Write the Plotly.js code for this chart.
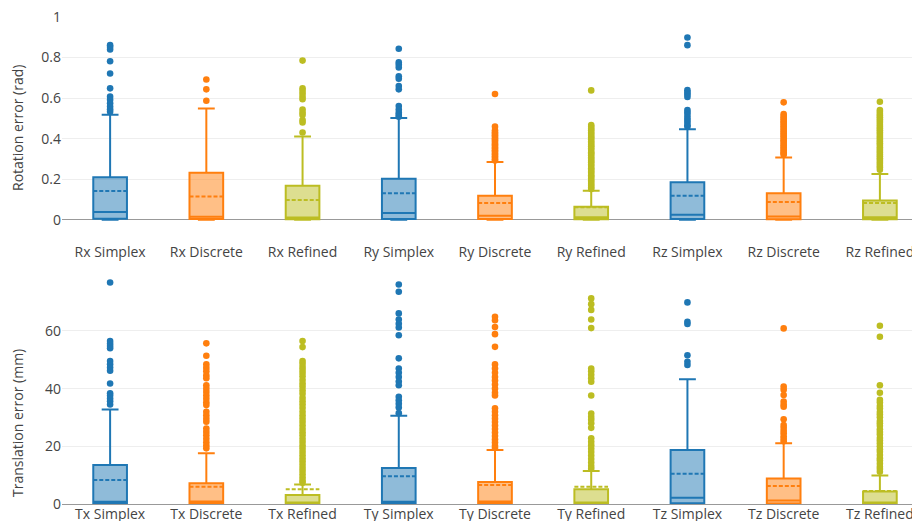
<!DOCTYPE html>
<html>
<head>
<meta charset="utf-8">
<script src="https://cdn.plot.ly/plotly-3.0.1.min.js"></script>
<style>
html, body { margin: 0; padding: 0; overflow: hidden; background: #fff; }
#chart { width: 940px; height: 521px; }
</style>
</head>
<body>
<div id="chart"></div>
<script>
// ---------- Rotation (rad) ----------
const rotCats = ['Rx Simplex', 'Rx Discrete', 'Rx Refined', 'Ry Simplex', 'Ry Discrete', 'Ry Refined', 'Rz Simplex', 'Rz Discrete', 'Rz Refined'];
const rotLower  = [0, 0, 0, 0, 0, 0, 0, 0, 0];
const rotQ1     = [0.005, 0.003, 0.002, 0.004, 0.003, 0.002, 0.003, 0.002, 0.002];
const rotMedian = [0.038, 0.015, 0.011, 0.033, 0.020, 0.012, 0.025, 0.016, 0.012];
const rotQ3     = [0.210, 0.231, 0.167, 0.202, 0.118, 0.064, 0.185, 0.131, 0.095];
const rotUpper  = [0.518, 0.548, 0.410, 0.502, 0.285, 0.143, 0.446, 0.307, 0.226];
const rotMean   = [0.141, 0.115, 0.097, 0.131, 0.082, 0.062, 0.118, 0.087, 0.082];

const outRxSimplex  = [0.861, 0.852, 0.840, 0.782, 0.721, 0.648, 0.607, 0.592, 0.574, 0.558, 0.545, 0.533];
const outRxDiscrete = [0.692, 0.643, 0.587];
const outRxRefined  = [0.785, 0.648, 0.636, 0.622, 0.607, 0.594, 0.544, 0.529, 0.516, 0.492, 0.480, 0.430];
const outRySimplex  = [0.843, 0.776, 0.764, 0.751, 0.708, 0.695, 0.659, 0.643, 0.561, 0.544, 0.528, 0.517, 0.508];
const outRyDiscrete = [0.620, 0.459, 0.441, 0.432, 0.424, 0.417, 0.409, 0.402, 0.394, 0.388, 0.379, 0.371, 0.365, 0.356, 0.350, 0.342, 0.336, 0.327, 0.320, 0.313, 0.305, 0.298, 0.292];
const outRyRefined  = [0.638, 0.467, 0.459, 0.449, 0.441, 0.430, 0.423, 0.413, 0.405, 0.397, 0.386, 0.379, 0.369, 0.362, 0.352, 0.344, 0.333, 0.326, 0.318, 0.307, 0.300, 0.290, 0.283, 0.272, 0.265, 0.254, 0.247, 0.237, 0.230, 0.219, 0.212, 0.203, 0.193, 0.186, 0.176, 0.168, 0.159, 0.151];
const outRzSimplex  = [0.899, 0.861, 0.639, 0.628, 0.618, 0.605, 0.541, 0.530, 0.517, 0.503, 0.492, 0.480, 0.466, 0.459];
const outRzDiscrete = [0.579, 0.521, 0.512, 0.503, 0.495, 0.486, 0.478, 0.470, 0.461, 0.452, 0.444, 0.435, 0.427, 0.418, 0.410, 0.401, 0.392, 0.384, 0.375, 0.366, 0.358, 0.349, 0.341, 0.333, 0.326, 0.320];
const outRzRefined  = [0.582, 0.541, 0.532, 0.523, 0.514, 0.505, 0.496, 0.487, 0.478, 0.468, 0.459, 0.450, 0.441, 0.432, 0.423, 0.413, 0.404, 0.395, 0.386, 0.377, 0.368, 0.358, 0.349, 0.340, 0.331, 0.322, 0.313, 0.303, 0.294, 0.285, 0.276, 0.266, 0.257, 0.246];

// ---------- Translation (mm) ----------
const trCats = ['Tx Simplex', 'Tx Discrete', 'Tx Refined', 'Ty Simplex', 'Ty Discrete', 'Ty Refined', 'Tz Simplex', 'Tz Discrete', 'Tz Refined'];
const trLower  = [0, 0, 0, 0, 0, 0, 0, 0, 0];
const trQ1     = [0.2, 0.2, 0.1, 0.2, 0.2, 0.1, 0.3, 0.2, 0.1];
const trMedian = [0.8, 0.9, 0.5, 0.8, 0.9, 0.5, 2.2, 1.2, 0.5];
const trQ3     = [13.5, 7.2, 3.1, 12.5, 7.6, 5.1, 18.7, 8.8, 4.3];
const trUpper  = [32.8, 17.6, 6.8, 30.6, 18.7, 11.4, 43.3, 21.1, 9.9];
const trMean   = [8.3, 6.0, 5.1, 9.6, 6.6, 6.0, 10.5, 6.2, 4.5];

const outTxSimplex  = [76.8, 56.5, 55.6, 54.8, 54.0, 49.6, 48.5, 47.3, 46.2, 41.8, 38.4, 37.6, 36.6, 35.6, 34.5];
const outTxDiscrete = [55.7, 51.4, 48.4, 47.2, 46.0, 44.6, 43.6, 41.2, 40.0, 38.8, 37.6, 36.5, 35.3, 34.3, 32.0, 30.8, 29.6, 28.5, 26.2, 25.0, 23.8, 22.6, 21.4, 20.3, 19.3];
const outTxRefined  = [56.5, 54.4, 49.6, 48.6, 47.5, 46.5, 45.4, 44.3, 43.0, 41.8, 40.7, 39.4, 38.2, 36.8, 35.6, 34.5, 33.3, 32.0, 30.8, 29.6, 28.4, 27.2, 26.0, 24.9, 23.8, 22.6, 21.5, 20.3, 19.2, 18.0, 16.9, 15.8, 14.7, 13.6, 12.5, 11.4, 10.3, 9.2, 8.1, 7.4];
const outTySimplex  = [76.1, 73.6, 66.1, 64.0, 62.5, 61.2, 58.5, 50.5, 47.0, 45.5, 44.0, 42.5, 41.2, 37.2, 36.0, 34.8, 33.5, 31.5];
const outTyDiscrete = [64.9, 63.7, 61.4, 58.9, 54.5, 48.4, 47.0, 45.5, 44.0, 42.8, 41.4, 40.0, 38.6, 37.6, 33.2, 32.0, 30.8, 29.6, 28.4, 27.2, 26.0, 24.8, 23.6, 22.4, 21.3, 20.2, 19.4];
const outTyRefined  = [71.3, 69.3, 67.3, 64.0, 61.0, 47.0, 46.0, 44.8, 43.6, 42.4, 37.6, 31.4, 30.2, 29.2, 28.0, 26.4, 22.8, 21.6, 20.4, 19.2, 18.0, 16.8, 15.6, 14.4, 13.2, 12.2];
const outTzSimplex  = [69.9, 63.2, 62.4, 51.6, 49.3, 48.2];
const outTzDiscrete = [60.9, 40.7, 39.6, 37.8, 35.5, 34.5, 33.7, 29.4, 27.4, 26.4, 25.4, 24.5, 23.5, 22.6, 21.8];
const outTzRefined  = [61.8, 58.0, 41.2, 38.6, 36.1, 35.2, 34.0, 33.1, 31.9, 31.0, 30.1, 28.8, 28.0, 27.1, 25.9, 25.0, 24.1, 22.9, 22.0, 21.1, 20.0, 18.9, 18.1, 17.0, 15.9, 15.1, 14.0, 12.9, 12.1, 11.2];

const methodColors = ['#1f77b4', '#ff7f0e', '#bcbd22'];

const rotOut = [outRxSimplex, outRxDiscrete, outRxRefined, outRySimplex, outRyDiscrete, outRyRefined, outRzSimplex, outRzDiscrete, outRzRefined];
const trOut = [outTxSimplex, outTxDiscrete, outTxRefined, outTySimplex, outTyDiscrete, outTyRefined, outTzSimplex, outTzDiscrete, outTzRefined];

const traces = [];
function addPanel(cats, lower, q1, med, q3, upper, mean, outs, xa, ya) {
  cats.forEach((c, i) => {
    const col = methodColors[i % 3];
    traces.push({
      type: 'box', x: [c], q1: [q1[i]], median: [med[i]], q3: [q3[i]],
      lowerfence: [lower[i]], upperfence: [upper[i]], mean: [mean[i]],
      boxmean: true, boxpoints: false, name: c, showlegend: false,
      marker: { color: col }, line: { color: col, width: 2 },
      xaxis: xa, yaxis: ya, hoverinfo: 'y'
    });
    traces.push({
      type: 'scatter', mode: 'markers', x: outs[i].map(() => c), y: outs[i],
      marker: { color: col, size: 6.6 }, showlegend: false,
      xaxis: xa, yaxis: ya, hoverinfo: 'y'
    });
  });
}
addPanel(rotCats, rotLower, rotQ1, rotMedian, rotQ3, rotUpper, rotMean, rotOut, 'x', 'y');
addPanel(trCats, trLower, trQ1, trMedian, trQ3, trUpper, trMean, trOut, 'x2', 'y2');

const font = { family: '"Open Sans", verdana, arial, sans-serif', size: 14, color: '#444' };
const layout = {
  width: 940, height: 521,
  margin: { l: 62, r: 12, t: 17, b: 17 },
  font: font,
  showlegend: false,
  boxmode: 'overlay', boxgap: 0.5,
  paper_bgcolor: '#fff', plot_bgcolor: '#fff',
  xaxis: { domain: [0, 1], anchor: 'y', type: 'category', categoryorder: 'array', categoryarray: rotCats,
           showgrid: false, zeroline: false, showline: false, ticks: '', tickfont: font },
  yaxis: { domain: [0.538, 1], anchor: 'x', range: [-0.11, 1], dtick: 0.2, tick0: 0,
           gridcolor: '#eee', zeroline: true, zerolinecolor: '#999', zerolinewidth: 1, tickfont: font },
  xaxis2: { domain: [0, 1], anchor: 'y2', type: 'category', categoryorder: 'array', categoryarray: trCats,
            showgrid: false, zeroline: false, showline: false, ticks: '', tickfont: font },
  yaxis2: { domain: [0, 0.4678], anchor: 'x2', range: [0, 79], dtick: 20, tick0: 0,
            gridcolor: '#eee', zeroline: true, zerolinecolor: '#999', zerolinewidth: 1, tickfont: font },
  annotations: [
    { text: 'Rotation error (rad)', textangle: -90, xref: 'paper', yref: 'paper',
      x: (17 - 62) / 866, y: (504 - 128) / 487, xanchor: 'center', yanchor: 'middle', showarrow: false, font: font },
    { text: 'Translation error (mm)', textangle: -90, xref: 'paper', yref: 'paper',
      x: (17 - 62) / 866, y: (504 - 423) / 487, xanchor: 'center', yanchor: 'middle', showarrow: false, font: font }
  ]
};

Plotly.newPlot('chart', traces, layout, { displayModeBar: false, staticPlot: false });
</script>
</body>
</html>
